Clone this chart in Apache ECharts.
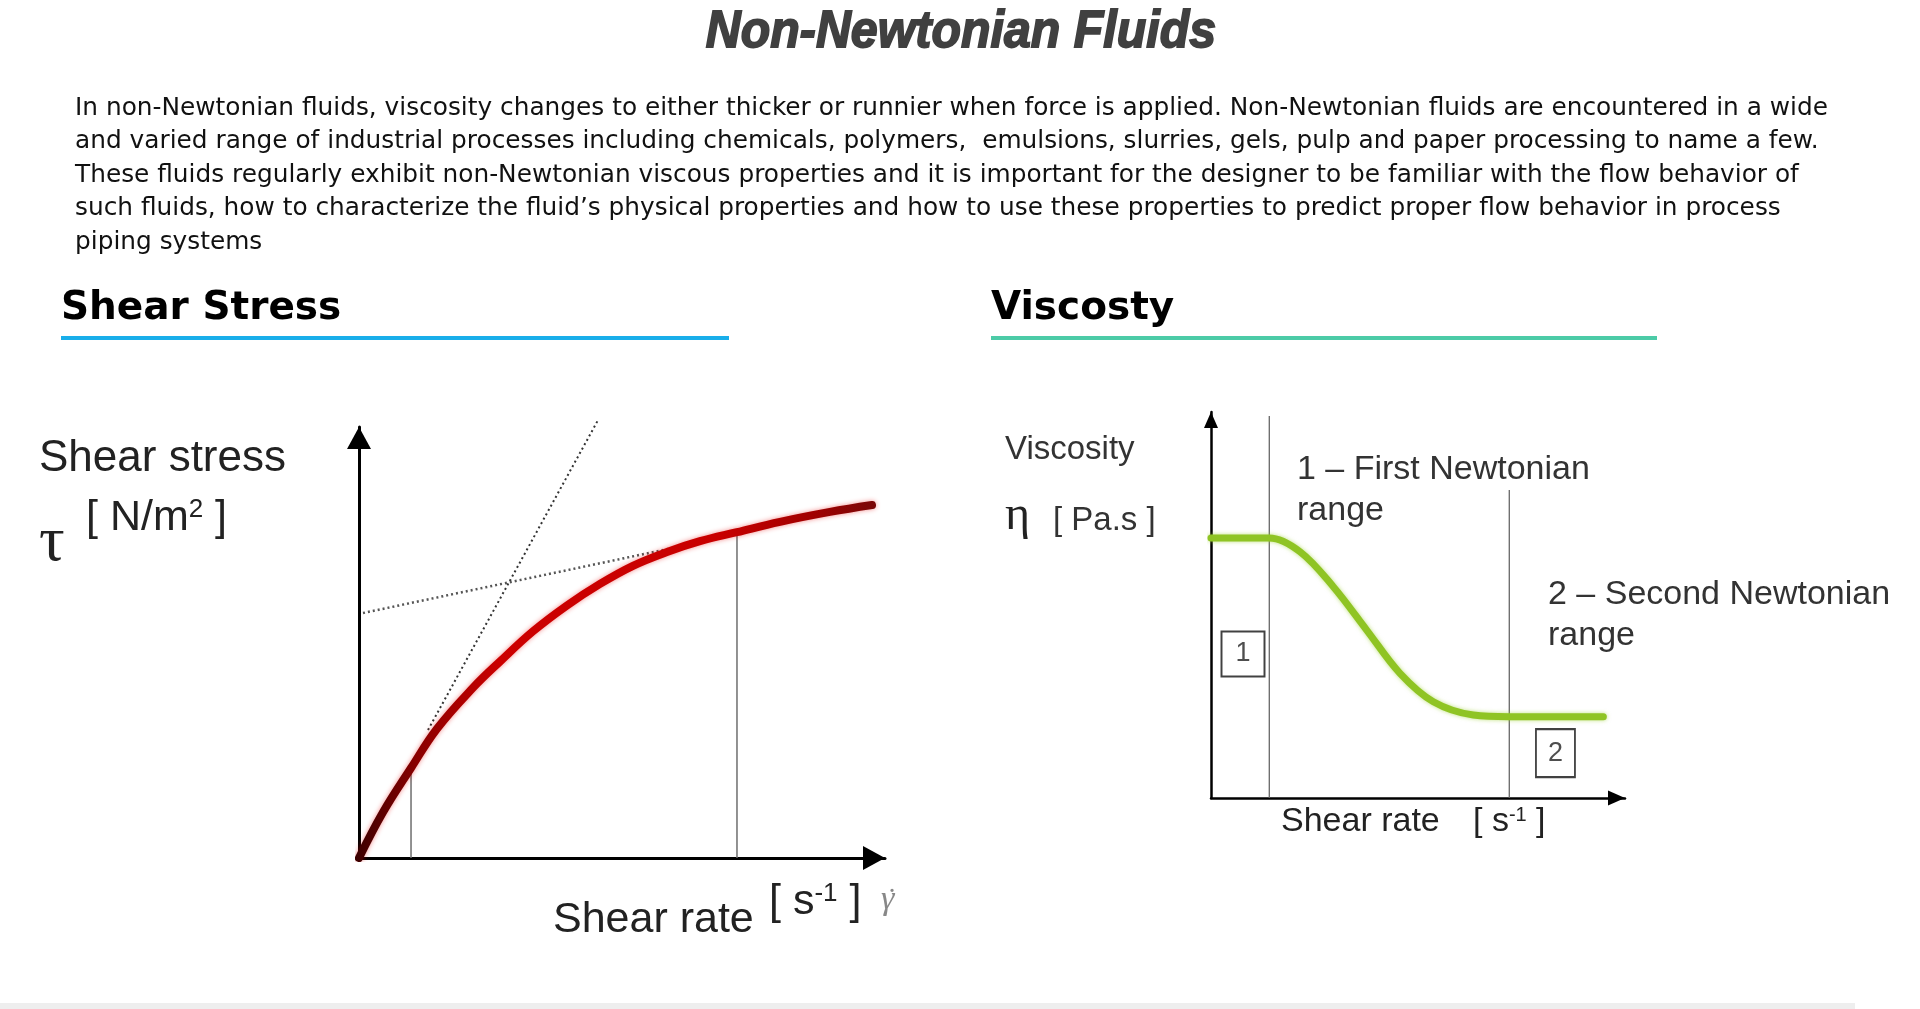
<!DOCTYPE html>
<html>
<head>
<meta charset="utf-8">
<script src="https://cdn.jsdelivr.net/npm/echarts@6/dist/echarts.min.js"></script>
<style>
html,body{margin:0;padding:0;background:#fff;}
#chart{width:1920px;height:1009px;}
</style>
</head>
<body>
<div id="chart"></div>
<script>
// ---------- texts ----------
const pageTitle = 'Non-Newtonian Fluids';
const introLines = [
  'In non-Newtonian fluids, viscosity changes to either thicker or runnier when force is applied. Non-Newtonian fluids are encountered in a wide',
  'and varied range of industrial processes including chemicals, polymers,  emulsions, slurries, gels, pulp and paper processing to name a few.',
  'These fluids regularly exhibit non-Newtonian viscous properties and it is important for the designer to be familiar with the flow behavior of',
  'such fluids, how to characterize the fluid\u2019s physical properties and how to use these properties to predict proper flow behavior in process',
  'piping systems'
];
const sectionTitles = ['Shear Stress', 'Viscosty'];

// ---------- left chart: shear stress vs shear rate ----------
const shearRate   = [0, 4.56, 9.89, 14.83, 21.67, 26.81, 33.08, 39.54, 45.82, 52.09, 58.56, 64.83, 71.86, 80.04, 89.54, 97.53];
const shearStress = [0, 10.6, 20.88, 30.0, 39.5, 45.6, 52.6, 58.6, 63.6, 67.8, 71.0, 73.5, 75.6, 78.0, 80.3, 81.9];
const steepTangentX = [13.12, 45.44];
const steepTangentY = [29.7, 101.6];
const flatTangentX  = [0.76, 62.36];
const flatTangentY  = [56.84, 72.62];
const stressMarkX   = [9.89, 71.86];
const stressMarkTop = [20.88, 75.6];

// ---------- right chart: viscosity vs shear rate ----------
const viscRate  = [0, 14.08, 21.5, 29.54, 37.6, 45.65, 53.7, 63.36, 72.05, 94.77];
const viscosity = [67.36, 67.36, 63.8, 54.74, 43.52, 32.3, 24.95, 21.5, 21.06, 21.06];
const viscMarkX   = [14.08, 72.05];
const viscMarkTop = [98.96, 79.8];
const rangeBoxX = [7.73, 83.2];
const rangeBoxY = [37.3, 11.6];
const rangeBoxLabels = ['1', '2'];

const chart = echarts.init(document.getElementById('chart'), null, {renderer: 'canvas'});

const SANS = '"Liberation Sans", Arial, sans-serif';
const INTRO_FONT = '24px "DejaVu Sans", Verdana, sans-serif';

// fit the intro paragraph to the reference line width
const measureCtx = document.createElement('canvas').getContext('2d');
measureCtx.font = INTRO_FONT;
const introScale = 1753 / measureCtx.measureText(introLines[0]).width;

function txt(x, y, text, font, fill, extra) {
  return {
    type: 'text', x: x, y: y, silent: true,
    style: Object.assign({text: text, font: font, fill: fill, textVerticalAlign: 'middle'}, extra || {})
  };
}

const graphics = [];
graphics.push({
  type: 'text', x: 961, y: 33, scaleX: 0.93, silent: true,
  style: {text: pageTitle, font: 'italic bold 52px ' + SANS, fill: '#404040', stroke: '#404040', lineWidth: 1.8,
          textAlign: 'center', textVerticalAlign: 'middle'}
});
const introY = [108.5, 142, 175.5, 209, 242.5];
introLines.forEach(function (l, i) {
  const t = txt(75, introY[i], l, INTRO_FONT, '#111');
  t.scaleX = introScale;
  graphics.push(t);
});
graphics.push(txt(61, 309, sectionTitles[0], 'bold 39px "DejaVu Sans", Verdana, sans-serif', '#000'));
graphics.push(txt(991, 309, sectionTitles[1], 'bold 39px "DejaVu Sans", Verdana, sans-serif', '#000'));
graphics.push({type: 'rect', silent: true, shape: {x: 61, y: 336, width: 668, height: 4}, style: {fill: '#19aeea'}});
graphics.push({type: 'rect', silent: true, shape: {x: 991, y: 336, width: 666, height: 4}, style: {fill: '#4ccba7'}});

// left labels
graphics.push(txt(39, 459, 'Shear stress', '44px ' + SANS, '#222'));
graphics.push(txt(39, 543, '\u03c4', '64px "Liberation Serif", serif', '#222'));
graphics.push({
  type: 'text', x: 86, y: 518, silent: true,
  style: {text: '{a|[ N/m}{s|2}{a| ]}', textVerticalAlign: 'middle', fill: '#222',
    rich: {a: {font: '43px ' + SANS, fill: '#222'}, s: {font: '26px ' + SANS, fill: '#222', verticalAlign: 'top'}}}
});
graphics.push(txt(553, 920, 'Shear rate', '43px ' + SANS, '#222'));
graphics.push({
  type: 'text', x: 769, y: 902, silent: true,
  style: {text: '{a|[ s}{s|-1}{a| ]}', textVerticalAlign: 'middle', fill: '#222',
    rich: {a: {font: '43px ' + SANS, fill: '#222'}, s: {font: '26px ' + SANS, fill: '#222', verticalAlign: 'top'}}}
});
graphics.push(txt(881, 900, '\u03b3', 'italic 34px "Liberation Serif", serif', '#888'));
graphics.push(txt(887, 901, '\u02d9', '30px "Liberation Serif", serif', '#888'));

// right labels
graphics.push(txt(1005, 450, 'Viscosity', '33px ' + SANS, '#333'));
graphics.push(txt(1005, 516, '\u03b7', '48px "Liberation Serif", serif', '#222'));
graphics.push(txt(1053, 521, '[ Pa.s ]', '33px ' + SANS, '#333'));
graphics.push(txt(1297, 470, '1 \u2013 First Newtonian', '34px ' + SANS, '#333'));
graphics.push(txt(1297, 511, 'range', '34px ' + SANS, '#333'));
graphics.push(txt(1548, 595, '2 \u2013 Second Newtonian', '34px ' + SANS, '#333'));
graphics.push(txt(1548, 636, 'range', '34px ' + SANS, '#333'));
graphics.push(txt(1281, 822, 'Shear rate', '34px ' + SANS, '#222'));
graphics.push({
  type: 'text', x: 1473, y: 822, silent: true,
  style: {text: '{a|[ s}{s|-1}{a| ]}', textVerticalAlign: 'middle', fill: '#222',
    rich: {a: {font: '34px ' + SANS, fill: '#222'}, s: {font: '20px ' + SANS, fill: '#222', verticalAlign: 'top'}}}
});
graphics.push({type: 'rect', silent: true, shape: {x: 0, y: 1003, width: 1855, height: 6}, style: {fill: '#eeeeee'}});

function axisOpt(gridIndex, lineW, arrow) {
  return {
    type: 'value', gridIndex: gridIndex, min: 0, max: 100,
    axisLabel: {show: false}, axisTick: {show: false}, splitLine: {show: false},
    axisLine: {show: true, onZero: false, symbol: ['none', 'triangle'], symbolSize: arrow, symbolOffset: [0, -arrow[1] / 2],
               lineStyle: {color: '#000', width: lineW}}
  };
}

const zip = (xs, ys) => xs.map((x, i) => [x, ys[i]]);

const series = [];
stressMarkX.forEach(function (x, i) {
  series.push({type: 'line', xAxisIndex: 0, yAxisIndex: 0, silent: true, symbol: 'none', z: 1,
    data: [[x, 0], [x, stressMarkTop[i]]], lineStyle: {color: '#6e6e6e', width: 1.5}});
});
series.push({type: 'line', xAxisIndex: 0, yAxisIndex: 0, silent: true, symbol: 'none', z: 2, clip: false,
  data: zip(steepTangentX, steepTangentY), lineStyle: {color: '#333', width: 2, type: [2, 3]}});
series.push({type: 'line', xAxisIndex: 0, yAxisIndex: 0, silent: true, symbol: 'none', z: 2, clip: false,
  data: zip(flatTangentX, flatTangentY), lineStyle: {color: '#555', width: 2.5, type: [2, 3]}});
series.push({type: 'line', xAxisIndex: 0, yAxisIndex: 0, silent: true, symbol: 'none', z: 3, smooth: 0.4,
  data: zip(shearRate, shearStress),
  lineStyle: {width: 8, shadowBlur: 5, shadowColor: 'rgba(230,0,0,0.45)', cap: 'round',
    color: new echarts.graphic.LinearGradient(0, 0, 1, 0, [
      {offset: 0, color: '#3a0000'}, {offset: 0.12, color: '#8a0000'}, {offset: 0.28, color: '#cc0000'},
      {offset: 0.7, color: '#c80000'}, {offset: 0.88, color: '#a00000'}, {offset: 1, color: '#780808'}])}});

viscMarkX.forEach(function (x, i) {
  series.push({type: 'line', xAxisIndex: 1, yAxisIndex: 1, silent: true, symbol: 'none', z: 1,
    data: [[x, 0], [x, viscMarkTop[i]]], lineStyle: {color: '#666', width: 1.3}});
});
series.push({type: 'line', xAxisIndex: 1, yAxisIndex: 1, silent: true, symbol: 'none', z: 3, smooth: 0.35,
  data: zip(viscRate, viscosity),
  lineStyle: {width: 7, color: '#8fc424', cap: 'round', shadowBlur: 4, shadowColor: 'rgba(150,205,40,0.6)'}});
series.push({type: 'scatter', xAxisIndex: 1, yAxisIndex: 1, silent: true, z: 4,
  symbol: 'rect', symbolSize: function (v, p) { return p.dataIndex === 0 ? [43, 45] : [39, 48]; },
  itemStyle: {color: '#fff', borderColor: '#111', borderWidth: 2},
  label: {show: true, position: 'inside', formatter: function (p) { return rangeBoxLabels[p.dataIndex]; },
    color: '#222', fontSize: 27, fontFamily: SANS},
  data: zip(rangeBoxX, rangeBoxY)});

chart.setOption({
  animation: false,
  backgroundColor: '#fff',
  grid: [
    {left: 359, top: 427, width: 526, height: 431},
    {left: 1211, top: 412, width: 414, height: 386}
  ],
  xAxis: [axisOpt(0, 3, [24, 22]), axisOpt(1, 2.5, [15, 17])],
  yAxis: [axisOpt(0, 3, [24, 22]), axisOpt(1, 2.5, [14, 16])],
  series: series,
  graphic: graphics
});
</script>
</body>
</html>
